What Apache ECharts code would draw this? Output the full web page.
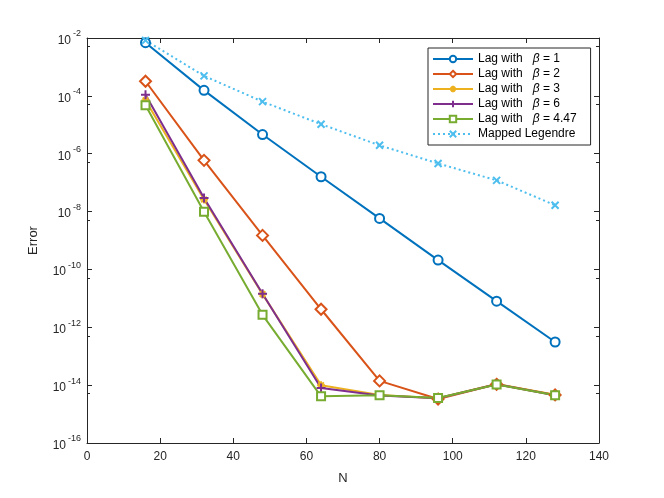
<!DOCTYPE html>
<html>
<head>
<meta charset="utf-8">
<script src="https://cdn.jsdelivr.net/npm/echarts@6/dist/echarts.min.js"></script>
<style>
html,body{margin:0;padding:0;background:#fff;}
#chart{width:664px;height:498px;}
</style>
</head>
<body>
<div id="chart"></div>
<script>
// ---- data ----
var N = [16, 32, 48, 64, 80, 96, 112, 128];
var lagBeta1 = [6.9e-3, 1.55e-4, 4.6e-6, 1.6e-7, 5.8e-9, 2.1e-10, 8.0e-12, 3.1e-13];
var lagBeta2 = [3.2e-4, 5.9e-7, 1.5e-9, 4.2e-12, 1.4e-14, 3.3e-15, 1.07e-14, 4.6e-15];
var lagBeta3 = [7.0e-5, 2.6e-8, 1.4e-11, 1.0e-14, 4.6e-15, 3.5e-15, 1.1e-14, 4.7e-15];
var lagBeta6 = [1.1e-4, 2.95e-8, 1.45e-11, 8.0e-15, 4.4e-15, 3.5e-15, 1.08e-14, 4.5e-15];
var lagBeta447 = [4.7e-5, 9.8e-9, 2.7e-12, 4.1e-15, 4.5e-15, 3.6e-15, 1.05e-14, 4.5e-15];
var mappedLegendre = [8.3e-3, 4.9e-4, 6.3e-5, 1.05e-5, 1.95e-6, 4.6e-7, 1.2e-7, 1.66e-8];
var seriesNames = ['Lag with   β = 1', 'Lag with   β = 2', 'Lag with   β = 3', 'Lag with   β = 6', 'Lag with   β = 4.47', 'Mapped Legendre'];
var xTicks = [0, 20, 40, 60, 80, 100, 120, 140];
var yExpMin = -16, yExpMax = -2;

function pairs(ys) { return N.map(function (n, i) { return [n, ys[i]]; }); }

var FONT = '"Liberation Sans", Arial, Helvetica, sans-serif';
var AX = '#262626';
var PLUS = 'path://M5,0L5,10M0,5L10,5';
var CROSS = 'path://M0,0L10,10M10,0L0,10';
var STAR = 'path://M5,0L5,10M0,5L10,5M1.5,1.5L8.5,8.5M8.5,1.5L1.5,8.5';

function mkSeries(name, ys, color, symbol, size, opts) {
  opts = opts || {};
  return {
    name: name, type: 'line', data: pairs(ys),
    xAxisIndex: 0, yAxisIndex: 0,
    symbol: symbol, symbolSize: size, showSymbol: true,
    lineStyle: { color: color, width: 2, type: opts.dotted ? [2, 3] : 'solid' },
    itemStyle: {
      color: opts.fill || color,
      borderColor: color,
      borderWidth: opts.bw != null ? opts.bw : 2
    },
    animation: false
  };
}

var chart = echarts.init(document.getElementById('chart'), null, { renderer: 'canvas' });

var baseX = {
  type: 'value', min: xTicks[0], max: xTicks[xTicks.length - 1], interval: xTicks[1] - xTicks[0],
  splitLine: { show: false },
  axisLine: { show: true, onZero: false, lineStyle: { color: AX, width: 1 } },
  axisTick: { show: true, inside: true, length: 5, lineStyle: { color: AX } }
};
var baseY = {
  type: 'log', logBase: 10, min: Math.pow(10, yExpMin), max: Math.pow(10, yExpMax), interval: 2,
  splitLine: { show: false },
  axisLine: { show: true, onZero: false, lineStyle: { color: AX, width: 1 } },
  axisTick: { show: true, inside: true, length: 5, lineStyle: { color: AX } },
  minorTick: { show: true, splitNumber: 2, length: 3, lineStyle: { color: AX } }
};

chart.setOption({
  backgroundColor: '#ffffff',
  animation: false,
  textStyle: { fontFamily: FONT },
  grid: { left: 87, right: 65, top: 38, bottom: 55, containLabel: false },
  xAxis: [
    Object.assign({}, baseX, {
      position: 'bottom',
      name: 'N', nameLocation: 'middle', nameGap: 29,
      nameTextStyle: { color: AX, fontSize: 13, fontFamily: FONT },
      axisLabel: { color: AX, fontSize: 12, fontFamily: FONT, margin: 8 }
    }),
    Object.assign({}, baseX, { position: 'top', axisLabel: { show: false } })
  ],
  yAxis: [
    Object.assign({}, baseY, {
      position: 'left',
      name: 'Error', nameLocation: 'middle', nameGap: 47, nameRotate: 90,
      nameTextStyle: { color: AX, fontSize: 13, fontFamily: FONT },
      axisLabel: {
        color: AX, margin: 6, fontFamily: FONT,
        formatter: function (v) {
          var e = Math.round(Math.log(v) / Math.LN10);
          return '{b|10}{s|' + e + '}';
        },
        rich: {
          b: { fontSize: 12, color: AX, fontFamily: FONT, verticalAlign: 'bottom' },
          s: { fontSize: 9, color: AX, fontFamily: FONT, padding: [0, 0, 8, 2], verticalAlign: 'bottom' }
        }
      }
    }),
    Object.assign({}, baseY, { position: 'right', axisLabel: { show: false } })
  ],
  legend: {
    orient: 'vertical', left: 428, top: 48,
    padding: [4, 14, 4, 4], itemGap: 1,
    itemWidth: 40, itemHeight: 8,
    backgroundColor: '#ffffff', borderColor: AX, borderWidth: 1,
    data: seriesNames,
    formatter: function (name) { return name.replace('β', '{i|β}'); },
    textStyle: {
      color: '#000', fontSize: 12, fontFamily: FONT, lineHeight: 14,
      rich: { i: { fontStyle: 'italic', fontSize: 12, color: '#000', fontFamily: FONT } }
    }
  },
  series: [
    mkSeries(seriesNames[0], lagBeta1, '#0072BD', 'emptyCircle', 9),
    mkSeries(seriesNames[1], lagBeta2, '#D95319', 'emptyDiamond', 11),
    mkSeries(seriesNames[2], lagBeta3, '#EDB120', STAR, 8),
    mkSeries(seriesNames[3], lagBeta6, '#7E2F8E', PLUS, 9),
    mkSeries(seriesNames[4], lagBeta447, '#77AC30', 'emptyRect', 8),
    mkSeries(seriesNames[5], mappedLegendre, '#4DBEEE', CROSS, 7, { dotted: true })
  ]
});
</script>
</body>
</html>
